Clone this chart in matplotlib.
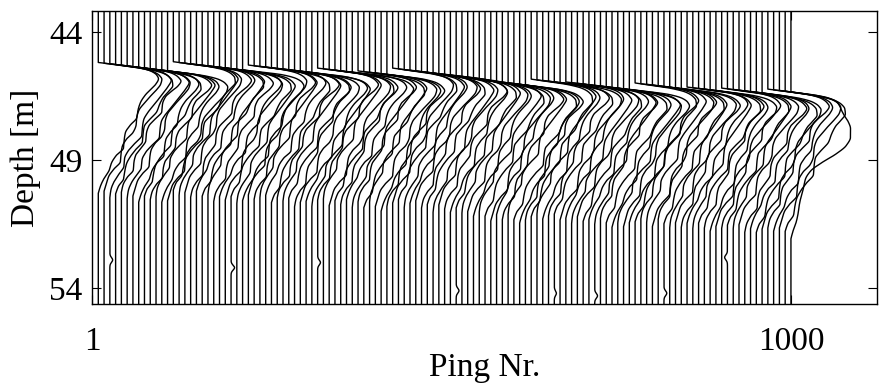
import numpy as np
import matplotlib
matplotlib.use("Agg")
import matplotlib.pyplot as plt

plt.rcParams['font.family'] = ['Liberation Serif', 'DejaVu Serif']

# ---------------------------------------------------------------- data
# ping number of every displayed trace
pings = np.linspace(10, 1000, 121)

# depth [m] of the seabed onset for each trace
onset = [
    45.19, 45.22, 45.24, 45.27, 45.30, 45.33, 45.35, 45.38, 45.41, 45.44, 45.46, 45.49, 45.52,
    45.16, 45.19, 45.22, 45.24, 45.27, 45.30, 45.32, 45.35, 45.38, 45.40, 45.43, 45.46, 45.48,
    45.29, 45.32, 45.34, 45.37, 45.40, 45.42, 45.45, 45.48, 45.50, 45.53, 45.56, 45.58,
    45.41, 45.44, 45.46, 45.49, 45.52, 45.54, 45.57,
    45.52, 45.55, 45.57, 45.60, 45.63, 45.65,
    45.41, 45.44, 45.47, 45.49, 45.52, 45.55, 45.57, 45.60, 45.63, 45.65, 45.68, 45.71, 45.73,
    45.80, 45.83, 45.85, 45.88, 45.91, 45.93, 45.96, 45.99, 46.01, 46.04, 46.07,
    45.84, 45.87, 45.89, 45.92, 45.95, 45.97,
    45.95, 45.98, 46.00, 46.03, 46.06, 46.08, 46.11, 46.14, 46.16, 46.19, 46.22, 46.24,
    45.99, 46.02, 46.04, 46.07, 46.10, 46.12, 46.15, 46.18, 46.20,
    46.15, 46.18, 46.20, 46.23, 46.26, 46.28,
    46.19, 46.22, 46.24, 46.27, 46.30, 46.32, 46.35, 46.38,
    46.23, 46.26, 46.28, 46.31, 46.34,
]

# relative echo strength of each trace
gain = [
    1.00, 0.97, 1.02, 0.95, 0.99, 1.03, 0.96, 1.00, 0.94, 1.02, 0.98, 0.95, 1.01,
    1.03, 0.98, 0.95, 1.01, 0.97, 1.02, 0.94, 0.99, 1.03, 0.96, 1.00, 0.97, 1.02,
    0.98, 1.02, 0.95, 1.00, 0.97, 1.03, 0.96, 1.01, 0.94, 0.99, 1.02, 0.97,
    1.01, 0.96, 1.03, 0.98, 0.95, 1.00, 1.02,
    0.97, 1.01, 0.95, 1.03, 0.99, 0.96,
    1.02, 0.97, 1.00, 0.95, 1.03, 0.98, 0.96, 1.01, 0.99, 1.04, 0.95, 1.00, 0.97,
    1.01, 0.96, 1.03, 0.98, 1.00, 0.95, 1.02, 0.97, 1.04, 0.99, 0.96,
    1.02, 0.98, 0.95, 1.01, 0.97, 1.03,
    0.96, 1.00, 1.03, 0.97, 0.99, 1.02, 0.95, 1.01, 0.98, 1.04, 0.97, 1.00,
    1.02, 0.96, 0.99, 1.03, 0.97, 1.00, 0.95, 1.02, 0.98,
    1.01, 0.97, 1.03, 0.99, 0.96, 1.02,
    0.98, 1.02, 0.96, 1.00, 1.03, 0.97, 1.01, 0.99,
    1.02, 0.98, 1.03, 1.00, 1.00,
]

# depth stretch of the echo tail for each trace
stretch = [
    0.98, 0.96, 1.00, 0.97, 0.95, 0.99, 0.97, 1.01, 0.96, 0.98, 0.95, 0.99, 0.97,
    0.96, 0.99, 0.97, 1.00, 0.95, 0.98, 0.96, 1.01, 0.97, 0.99, 0.96, 1.00, 0.98,
    0.97, 1.00, 0.98, 0.96, 1.01, 0.97, 0.99, 0.96, 1.02, 0.98, 0.97, 1.00,
    0.99, 0.97, 1.02, 0.98, 1.00, 0.96, 1.01,
    0.98, 1.02, 0.97, 1.00, 1.03, 0.99,
    1.01, 0.98, 1.03, 1.00, 0.97, 1.02, 0.99, 1.04, 0.98, 1.01, 1.03, 0.99, 1.02,
    1.00, 1.03, 0.99, 1.02, 1.05, 1.00, 1.03, 0.98, 1.02, 1.04, 1.01,
    1.03, 1.00, 1.04, 1.01, 0.99, 1.03,
    1.02, 1.05, 1.00, 1.03, 1.01, 1.04, 0.99, 1.02, 1.05, 1.01, 1.03, 1.00,
    1.04, 1.01, 1.03, 1.06, 1.00, 1.03, 1.05, 1.01, 1.04,
    1.02, 1.05, 1.01, 1.04, 1.06, 1.02,
    1.05, 1.02, 1.04, 1.01, 1.06, 1.03, 1.05, 1.02,
    1.04, 1.06, 1.03, 1.05, 1.10,
]

# echo shape used by each trace
shape_id = [
    0, 2, 5, 3, 1, 5, 2, 0, 3, 1, 5, 0, 2,
    3, 5, 2, 1, 0, 3, 5, 1, 0, 2, 3, 5, 0,
    2, 1, 5, 0, 3, 1, 5, 3, 1, 2, 0, 5,
    1, 5, 2, 3, 1, 0, 5,
    1, 3, 5, 2, 0, 1,
    2, 3, 5, 0, 2, 1, 3, 5, 2, 1, 0, 3, 5,
    2, 0, 5, 3, 2, 0, 1, 5, 3, 0, 1,
    3, 5, 0, 1, 3, 2,
    0, 5, 2, 3, 0, 5, 1, 3, 0, 5, 2, 0,
    3, 1, 5, 2, 1, 3, 5, 2, 1,
    0, 5, 3, 1, 0, 2,
    1, 3, 5, 2, 1, 0, 3, 2,
    1, 0, 2, 3, 4,
]

# echo shapes: normalised amplitude vs. depth below onset [m]
shape_depth = [0, 0.1, 0.2, 0.35, 0.5, 0.65, 0.85, 1.05, 1.3, 1.6, 1.9,
               2.2, 2.5, 2.8, 3.1, 3.4, 3.7, 4.0, 4.3, 4.6, 4.9, 5.2]
shapes = [
    [0, .36, .66, .88, .97, 1.0, .96, .88, .78, .70, .66, .64, .53, .45, .43, .42, .30, .22, .18, .10, .04, 0],
    [0, .35, .65, .87, .96, 1.0, .95, .85, .74, .69, .68, .57, .46, .42, .41, .33, .24, .21, .20, .10, .03, 0],
    [0, .33, .62, .85, .95, .99, .97, .91, .81, .70, .60, .56, .55, .50, .38, .31, .29, .28, .17, .08, .04, 0],
    [0, .30, .58, .83, .94, .99, 1.0, .94, .84, .77, .72, .60, .50, .48, .47, .36, .26, .19, .16, .14, .05, 0],
    [0, .35, .60, .76, .81, .84, .89, .95, .99, .99, .92, .75, .52, .33, .24, .21, .17, .14, .12, .09, .04, 0],
    [0, .34, .64, .87, .96, 1.0, .96, .90, .82, .72, .62, .55, .53, .52, .41, .30, .24, .23, .15, .07, .02, 0],
]

# weak late returns: (trace index, depth [m], deflection [pings])
late_trace = [2, 23, 38, 62, 79, 86, 98, 109]
late_depth = [52.9, 53.2, 53.0, 54.1, 54.2, 54.3, 54.2, 52.8]
late_amp = [4, 5, 4, 4, 3, 4, 4, -4]

amp_scale = 86.0  # ping units per unit amplitude


def pchip(xk, yk, x):
    xk = np.asarray(xk, float)
    yk = np.asarray(yk, float)
    h = np.diff(xk)
    d = np.diff(yk) / h
    m = np.zeros_like(yk)
    for i in range(1, len(xk) - 1):
        if d[i - 1] * d[i] > 0:
            w1 = 2 * h[i] + h[i - 1]
            w2 = h[i] + 2 * h[i - 1]
            m[i] = (w1 + w2) / (w1 / d[i - 1] + w2 / d[i])
    m[0] = d[0]
    m[-1] = d[-1]
    idx = np.clip(np.searchsorted(xk, x) - 1, 0, len(h) - 1)
    s = (x - xk[idx]) / h[idx]
    y = ((2 * s**3 - 3 * s**2 + 1) * yk[idx] + (s**3 - 2 * s**2 + s) * h[idx] * m[idx]
         + (-2 * s**3 + 3 * s**2) * yk[idx + 1] + (s**3 - s**2) * h[idx] * m[idx + 1])
    y[(x < xk[0]) | (x > xk[-1])] = 0.0
    return y


depth = np.arange(43.0, 54.8, 0.005)

fig = plt.figure(figsize=(8.8, 3.85), dpi=100)
ax = fig.add_axes([92 / 880, 1 - 304 / 385, (877 - 92) / 880, (304 - 11) / 385])

for k, p in enumerate(pings):
    t = (depth - onset[k]) / stretch[k]
    a = pchip(shape_depth, shapes[shape_id[k]], t)
    x = p + amp_scale * gain[k] * a
    for lt, ld, la in zip(late_trace, late_depth, late_amp):
        if lt == k:
            x = x + la * np.exp(-((depth - ld) / 0.13) ** 2)
    ax.plot(x, depth, color='black', lw=1.0, solid_joinstyle='round')

ax.set_xlim(1, 1123)
ax.set_ylim(54.62, 43.18)
ax.set_xticks([1, 1000])
ax.set_xticklabels(['1', '1000'])
ax.set_yticks([44, 49, 54])
ax.tick_params(direction='in', length=6.5, width=0.8, top=True, right=True, labelsize=24)
ax.tick_params(axis='x', pad=16)
ax.tick_params(axis='y', pad=7)
for sp in ax.spines.values():
    sp.set_linewidth(1.0)
ax.set_xlabel('Ping Nr.', fontsize=24, labelpad=-3)
ax.set_ylabel('Depth [m]', fontsize=24, labelpad=6)

fig.savefig('out.png', dpi=100)
